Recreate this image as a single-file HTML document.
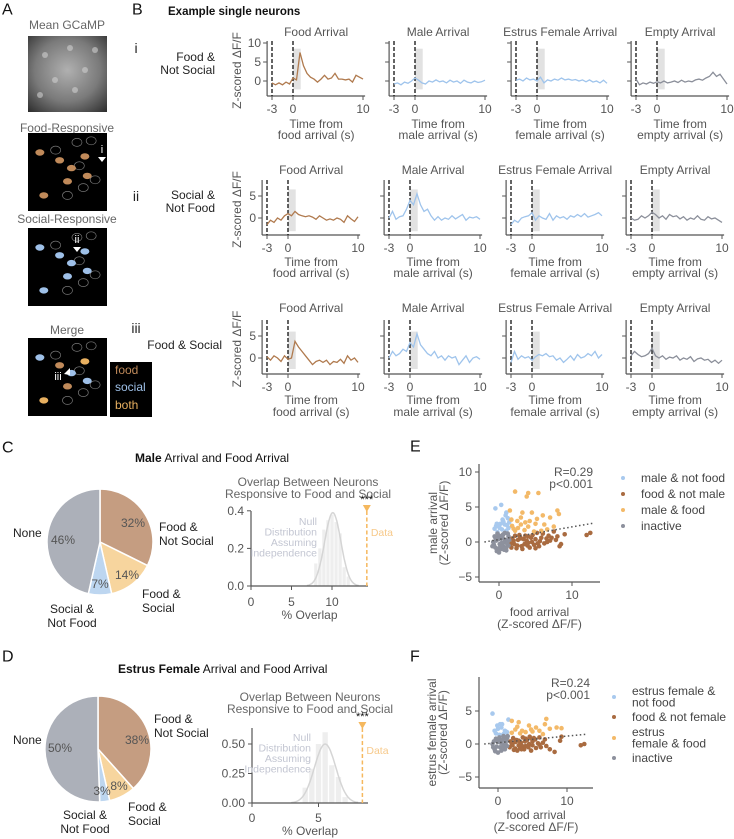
<!DOCTYPE html>
<html><head><meta charset="utf-8">
<style>
html,body{margin:0;padding:0;background:#fff;}
svg{display:block;font-family:"Liberation Sans",Arial,sans-serif;}
</style></head>
<body>
<svg id="fig" width="734" height="839" viewBox="0 0 734 839" xmlns="http://www.w3.org/2000/svg">
<defs>
<radialGradient id="gcamp" cx="50%" cy="45%" r="75%">
<stop offset="0" stop-color="#b0b0b0"/><stop offset="0.55" stop-color="#7a7a7a"/><stop offset="1" stop-color="#2a2a2a"/>
</radialGradient>
</defs>
</svg>
<script>
// ---------- DATA ----------
const traceTimeStart = -3, traceTimeStep = 0.5;
const rowLabels = ["i","ii","iii"];
const rowNames = [["Food &","Not Social"],["Social &","Not Food"],["Food & Social"]];
const colTitles = ["Food Arrival","Male Arrival","Estrus Female Arrival","Empty Arrival"];
const colXLabels = ["food arrival (s)","male arrival (s)","female arrival (s)","empty arrival (s)"];
const rowTicks = [[0,5,10],[0,5],[0,5]];
const xTicks = [-3,0,10];
const traceRowI_food   = [-0.5,-1,-0.5,-1,-0.3,-0.8,0.8,0.3,7.5,4,2,1,0.5,-0.3,0.5,1.5,0.5,0.8,2,0.5,0.5,0.3,0.5,-0.3,1.5,1,0.5];
const traceRowI_male   = [-0.8,-0.5,-1,-0.3,-0.6,0,0.8,0.2,-0.5,-0.8,0,-0.3,0.3,-0.2,0,-0.5,0.2,-0.3,0,-0.6,0.2,-0.3,-0.5,0,-0.4,-0.2,0.2];
const traceRowI_female = [0.2,0.5,0,0.8,0.3,0.5,0,1,-0.5,0.3,0,0.5,0.2,0.8,0.3,0.5,0.2,0.4,0,0.3,-0.2,0.3,-0.3,0,-0.5,0.2,-0.6];
const traceRowI_empty  = [0.5,-1,-0.5,-0.8,-0.3,-0.6,-0.2,-0.5,0,-0.5,-0.3,0,-0.4,0.2,-0.3,0,-0.2,0.3,0.5,0.2,0.8,1.2,2.3,1.2,1.8,0.5,-0.8];
const traceRowII_food   = [-1.5,-0.5,-1,0,-0.5,0.5,1,0.5,1.5,0.8,0.5,0.3,0.5,0.2,-0.3,0.5,0,-0.5,-0.2,-0.5,0,-0.3,-1,0.5,-0.2,-0.8,0.3];
const traceRowII_male   = [0,1.5,-0.3,0.3,0.5,2,4,3,5.5,3,1.5,2,0.5,-0.5,0.3,-0.5,0,-0.3,0.5,-0.2,0.3,0.8,-0.5,0.2,0,0.3,-0.3];
const traceRowII_female = [-1.5,-0.5,-1,0,0.3,0.5,1.2,-0.5,0.5,0,-0.3,1,-0.5,0.5,0,0.3,-0.3,0.5,0.2,0.8,0.3,1,0.2,0.5,0.8,1.2,0.5];
const traceRowII_empty  = [0,-0.5,-0.3,0.5,0,0.5,1.3,0.8,0,0.5,-0.3,0.8,0.3,0.5,-0.2,0.3,-0.5,0,-0.3,0.5,-0.3,-0.5,0.3,-0.2,0,-0.5,-1];
const traceRowIII_food   = [0.3,-0.5,0.5,0,-0.8,0.5,-0.3,0,3.8,2.5,1.5,0.5,-0.5,-1.5,-0.8,-0.5,-1,-0.5,-1.5,-0.8,-1,-0.3,-1.2,0.5,-0.5,0,-1];
const traceRowIII_male   = [0,1.5,0.5,1,2,1.5,3.5,2.5,5.5,3,2,1,0.5,1.5,0,0.5,-0.5,0.5,0,0.3,-1.5,-0.5,0.5,-1,0,0.3,-0.3];
const traceRowIII_female = [-1,1.5,-0.3,0.5,0,0.3,-0.5,0.3,0.8,0.5,1,0.3,0.5,-0.5,0,-1,-0.3,0.5,-0.5,0.8,0,0.3,1,0.5,1.5,0,0.8];
const traceRowIII_empty  = [0.5,1.5,0.8,0.3,0.5,1,2.2,0.5,0,0.5,-0.3,0.2,0,0.5,-0.5,0,-0.3,0.3,-0.8,-0.2,0,-0.5,-0.3,-1,-0.5,-1.2,-0.5];

const pieLabelsC = ["32%","14%","7%","46%"];
const pieValuesC = [32,14,7,46];
const pieValuesD = [38,8,3,50];
const pieLabelsD = ["38%","8%","3%","50%"];

const histBinsC = [8,8.5,9,9.5,10,10.5,11,11.5,12];
const histHeightsC = [0.12,0.2,0.3,0.35,0.38,0.34,0.28,0.1,0.05];
const nullFitC = [10.1,1.0,0.39];
const dataOverlapC = 14.3;
const histTicksYC = [0,0.2,0.4];
const histTicksXC = [0,5,10];
const histBinsD = [4,4.5,5,5.5,6,6.5,7];
const histHeightsD = [0.13,0.29,0.5,0.6,0.32,0.22,0.05];
const nullFitD = [5.5,0.8,0.5];
const dataOverlapD = 8.3;
const histTicksYD = [0,0.25,0.5];
const histTicksXD = [0,5];

const scatterE_socialX = [-0.5,0.3,1,0.5,1.2,-0.3,0,0.8,1.3,-0.6,0.4,1.0,-0.2,0.6,1.4,0.1,0.9,-0.4,0.2,1.1];
const scatterE_socialY = [4.8,5.3,4.2,3.2,3.4,2.6,2.2,2.5,2.0,1.9,1.8,1.6,1.4,2.9,2.8,2.0,3.8,2.3,2.6,2.4];
const scatterE_foodX = [2,2.5,3,3.5,4,4.5,5,5.5,6,6.5,7,7.5,8,8.5,8.3,12,12.5,9,3.2,4.2,2.2,2.8,5.2,6.8,1.6,1.8,3.8,4.8,5.8,6.2,7.2,2.4,3.6,4.6,5.6,1.7,2.1,2.6,3.1,3.4,3.9,4.4,5.3,6.6,7.8,2.9,4.0,5.0];
const scatterE_foodY = [0.2,-0.5,0.5,-0.3,0.8,0,0.4,-0.6,1.2,0.5,0.2,1.5,0.8,-0.3,-0.6,1,1.3,1.1,-1,-0.8,0.9,1.0,1.3,0.9,-0.2,0.5,0.2,-0.4,0.6,-0.2,0.6,-0.9,0.9,1.0,0.1,-0.8,-0.3,0.3,-0.6,0.4,-0.5,0.6,-0.2,0.0,0.3,0.7,-0.1,-0.9];
const scatterE_bothX = [2.2,3.8,4,5.4,1.5,3.2,4.5,6,8,8.2,7,2.5,3,4,5,6.2,7.5,1.8,2.2,3.5,4.8,5.8,3,2.0,4.2,2.6,3.6,5.2,6.6,1.7];
const scatterE_bothY = [7.2,6.5,7,7,4.5,4.2,4.2,3.8,4.5,4,3.5,3,2.5,2.2,2.6,2.5,2.2,2.3,1.6,1.7,1.5,1.6,3.5,1.9,3.0,2.0,2.8,3.3,1.8,3.2];
const scatterE_inactX = [-0.8,-0.5,-0.3,0,0.3,0.6,1,1.3,-0.6,-0.2,0.2,0.5,0.9,1.2,1.4,-0.4,0.1,0.7,1.1,0,0.4,-0.7,0.8,1.3,-0.9,-0.1,0.5,1.0,0.3,-0.5,0.7,1.2,0.0,0.6];
const scatterE_inactY = [0,-0.8,-1.3,-1.5,-1.0,-0.6,-1.2,-0.5,0.8,1.2,0.5,1.0,0.3,1.2,0.3,0.2,-0.3,0.0,-0.2,0.9,-0.1,-0.4,1.3,0.8,-0.6,0.4,0.6,-0.8,-0.7,0.6,-1.1,0.1,-0.9,1.1];
const regressionE = [0.36,0.18];

const scatterF_socialX = [-0.8,0.3,1.5,-0.5,0,0.5,1,0.8,-0.3,1.3,0.2,0.6,-0.1];
const scatterF_socialY = [4.6,3,3.7,2.0,2.3,2.5,2.0,1.5,1.6,1.8,1.4,3.0,2.8];
const scatterF_foodX = [2,2.5,3,3.5,4,4.5,5,5.5,6,6.5,7,7.5,8.2,9,9.2,12,12.5,2.2,2.8,3.3,3.8,4.2,4.8,5.2,5.8,6.2,1.7,1.8,3.0,4.0,5.0,6.8,2.5,3.6,4.6,2.1,2.7,3.2,3.9,4.4,5.4,6.0,2.3,3.4,4.9];
const scatterF_foodY = [0,-0.7,0.5,-0.3,0.8,0,0.4,-0.6,1,0.2,-0.3,-0.8,-1.2,0.5,1.1,-0.2,0,0.9,-1,0.2,-0.8,0.6,-1,0.9,0.1,-0.5,-0.5,0.4,-0.2,-0.3,-0.2,0.7,0.3,1.0,1.1,-0.2,0.6,-0.6,0.4,-0.5,0.7,-0.1,-0.9,-0.8,0.8];
const scatterF_bothX = [2,3,4.5,7,6.8,7.5,8.5,9.2,2.5,3.5,5.5,6,2,4,5,6.5,3.2,2.8,4.8];
const scatterF_bothY = [3.5,3.3,2.8,3.8,3,2.3,2.5,2.4,2.2,2.0,2.5,2,1.7,1.8,1.9,1.5,1.6,2.6,2.2];
const scatterF_inactX = [-0.8,-0.5,0,0.5,1,1.3,-0.3,0.2,0.8,1.2,0.4,0.9,-0.6,0,0.6,1.4,-0.2,0.3,1.1,-0.4,0.7,1.3,0.1,-0.7,1.0];
const scatterF_inactY = [0,-0.8,-1.3,-1,-0.8,-0.3,0.8,1.0,1.2,0.6,0.2,-0.1,0.4,0.3,0.6,1.2,-0.4,-0.5,0.2,-1.1,-0.4,0.9,0.7,-0.5,1.0];
const regressionF = [0.2,0.1];

// ---------- HELPERS ----------
const NS = "http://www.w3.org/2000/svg";
const svg = document.getElementById('fig');
function mk(tag, attrs, name, parent) {
  const el = document.createElementNS(NS, tag);
  for (const k in attrs) el.setAttribute(k, attrs[k]);
  
  
  (parent || svg).appendChild(el);
  return el;
}
function tx(x, y, s, size, fill, anchor, name, weight, rot) {
  const a = {x:x, y:y, 'font-size':size, fill:fill, 'text-anchor':anchor||'start', 'dominant-baseline':'central'};
  if (weight) a['font-weight'] = weight;
  if (rot) a.transform = 'rotate(' + rot + ' ' + x + ' ' + y + ')';
  const el = mk('text', a, name);
  el.textContent = s;
  return el;
}
function ln(x1,y1,x2,y2,stroke,w,name,dash){
  const a={x1:x1,y1:y1,x2:x2,y2:y2,stroke:stroke,'stroke-width':w};
  if(dash) a['stroke-dasharray']=dash;
  return mk('line',a,name);
}
const AX = '#555', TXT = '#555';

// ---------- PANEL LETTERS ----------
tx(2,10,"A",16,"#111","start","panel-a-label");
tx(132,10,"B",16,"#111","start","panel-b-label");
tx(168,12,"Example single neurons",11.5,"#111","start","panel-b-title","bold");
tx(2,448,"C",16,"#111","start","panel-c-label");
tx(2,657,"D",16,"#111","start","panel-d-label");
tx(410,447,"E",16,"#111","start","panel-e-label");
tx(410,657,"F",16,"#111","start","panel-f-label");

// ---------- PANEL A ----------
tx(67,25,"Mean GCaMP",12,"#666","middle","mean-gcamp-title");
mk('rect',{x:28,y:36,width:79,height:76,fill:'url(#gcamp)'},'mean-gcamp-image');
[[45,55],[70,48],[85,70],[55,80],[75,90],[40,95],[95,50]].forEach(p=>{
  mk('circle',{cx:p[0],cy:p[1],r:3,fill:'#cfcfcf',opacity:0.6},'gcamp-bright-spot');
});
const aPanels = [["Food-Responsive",128,133,"#c08a5a"],["Social-Responsive",219,228,"#9ec0e8"],["Merge",330,338,"mix"]];
const blobPos = [[0.4,0.35],[0.55,0.45],[0.72,0.3],[0.5,0.62],[0.2,0.8],[0.75,0.55],[0.15,0.25]];
const outlinePos = [[0.62,0.12],[0.35,0.22],[0.65,0.42],[0.85,0.6],[0.5,0.8],[0.7,0.7],[0.8,0.1]];
aPanels.forEach((p,pi)=>{
  tx(67,p[1],p[0],12,"#666","middle","panel-a-subtitle");
  mk('rect',{x:28,y:p[2],width:79,height:78,fill:'#000'},'cell-map-image');
  outlinePos.forEach(o=>{
    mk('ellipse',{cx:28+o[0]*79,cy:p[2]+o[1]*78,rx:5,ry:4,fill:'none',stroke:'#777','stroke-width':0.7},'cell-outline');
  });
  blobPos.forEach((b,bi)=>{
    let col = p[3];
    if (col==='mix') col = ['#c08a5a','#9ec0e8','#e8b060','#c08a5a','#e8b060','#9ec0e8','#9ec0e8'][bi];
    mk('ellipse',{cx:28+b[0]*79,cy:p[2]+b[1]*78,rx:4.5,ry:3.2,fill:col},'cell-blob');
  });
});
tx(102,150,"i",11,"#fff","middle","arrow-label-i");
mk('path',{d:'M98,157 L106,157 L102,162 Z',fill:'#fff'},'arrow-i');
tx(77,240,"ii",11,"#fff","middle","arrow-label-ii");
mk('path',{d:'M73,247 L81,247 L77,252 Z',fill:'#fff'},'arrow-ii');
tx(58,377,"iii",11,"#fff","middle","arrow-label-iii");
mk('path',{d:'M64,374 L70,368 L70,375 Z',fill:'#fff'},'arrow-iii');
mk('rect',{x:110,y:362,width:42,height:55,fill:'#000'},'merge-legend-box');
tx(115,370,"food",12,"#c08a5a","start","legend-food");
tx(115,387,"social",12,"#9ec0e8","start","legend-social");
tx(115,405,"both",12,"#e8b060","start","legend-both");

// ---------- PANEL B ----------
const traces = [
  [traceRowI_food,traceRowI_male,traceRowI_female,traceRowI_empty],
  [traceRowII_food,traceRowII_male,traceRowII_female,traceRowII_empty],
  [traceRowIII_food,traceRowIII_male,traceRowIII_female,traceRowIII_empty]];
const colColors = ["#b07a4e","#9fc4ec","#9fc4ec","#8b8f9a"];
const rowGeom = [
  {x0:[272,394,516,636], y0:81,  k:3.8, top:41,  bot:96,  tl:109, xl1:124, xl2:135, title:32,  box:[8.5,-2.2], lab:48, nm:[57,70]},
  {x0:[267,389,511,631], y0:218, k:4.4, top:180, bot:235, tl:248, xl1:262, xl2:273, title:170, box:[6.5,-3.0], lab:196, nm:[195,208]},
  {x0:[267,389,511,631], y0:358, k:4.4, top:320, bot:374, tl:387, xl1:400, xl2:412, title:308, box:[6.0,-2.5], lab:328, nm:[345]}];
const SX = 7;
rowGeom.forEach((g,ri)=>{
  tx(136,g.lab,rowLabels[ri],14,"#222","middle","row-label-"+rowLabels[ri]);
  rowNames[ri].forEach((s,si)=> tx(ri===2?222:215,g.nm[si],s,12,"#222","end","row-name"));
  for (let ci=0; ci<4; ci++){
    const X = t => g.x0[ci] + (t+3)*SX;
    const Y = v => g.y0 - v*g.k;
    const spine = X(-3.7);
    tx(X(3.3),g.title,colTitles[ci],12,TXT,"middle","trace-title");
    mk('rect',{x:X(0),y:Y(g.box[0]),width:SX*1.1,height:Y(g.box[1])-Y(g.box[0]),fill:'#e2e2e2'},'response-window');
    ln(spine,g.top,spine,g.bot,AX,1.2,'y-axis');
    ln(spine,g.bot,X(10.3),g.bot,AX,1.2,'x-axis');
    rowTicks[ri].forEach(v=>{
      ln(spine-4,Y(v),spine,Y(v),AX,1,'y-tick');
      if(ci===0) tx(spine-6,Y(v),String(v),12,TXT,"end","y-tick-label");
    });
    xTicks.forEach(t=>{
      ln(X(t),g.bot,X(t),g.bot+4,AX,1,'x-tick');
      tx(X(t),g.tl,String(t),12,TXT,"middle","x-tick-label");
    });
    ln(X(-3),g.top,X(-3),g.bot,'#111',1.3,'onset-line-minus3','4,2');
    ln(X(0),g.top,X(0),g.bot,'#111',1.3,'onset-line-0','4,2');
    const d = traces[ri][ci];
    const pts = d.map((v,i)=>X(traceTimeStart+i*traceTimeStep).toFixed(1)+','+Y(v).toFixed(1)).join(' ');
    mk('polyline',{points:pts,fill:'none',stroke:colColors[ci],'stroke-width':1.3},'trace-line');
    tx(X(3.3),g.xl1,"Time from",12,TXT,"middle","x-axis-title");
    tx(X(3.3),g.xl2,colXLabels[ci],12,TXT,"middle","x-axis-title");
    if(ci===0) tx(237,(g.top+g.bot)/2+2,"Z-scored ΔF/F",12,TXT,"middle","y-axis-title",null,-90);
  }
});

// ---------- PIES ----------
const pieColors = ["#c59d81","#f7d59e","#bdd6f0","#acb0b9"];
function pie(cx,cy,r,vals,labels,labelPos,nm){
  const tot = vals.reduce((a,b)=>a+b,0);
  let a0 = -Math.PI/2;
  vals.forEach((v,i)=>{
    const a1 = a0 + v/tot*2*Math.PI;
    const x0=cx+r*Math.cos(a0), y0=cy+r*Math.sin(a0), x1=cx+r*Math.cos(a1), y1=cy+r*Math.sin(a1);
    const large = (a1-a0)>Math.PI?1:0;
    mk('path',{d:`M${cx},${cy} L${x0.toFixed(2)},${y0.toFixed(2)} A${r},${r} 0 ${large} 1 ${x1.toFixed(2)},${y1.toFixed(2)} Z`,fill:pieColors[i],stroke:'#fff','stroke-width':1.5},nm+'-slice');
    a0 = a1;
  });
  labels.forEach((s,i)=>tx(labelPos[i][0],labelPos[i][1],s,12,"#555","middle",nm+'-percent'));
}
const tC = tx(135,458,"",12,"#111","start","panel-c-title");
tC.innerHTML = '<tspan font-weight="bold">Male</tspan> Arrival and Food Arrival';
pie(100,542,53,pieValuesC,pieLabelsC,[[133,523],[127,575],[100,584],[63,540]],'pie-c');
tx(159,527,"Food &",12,"#222","start","pie-c-label");
tx(159,541,"Not Social",12,"#222","start","pie-c-label");
tx(142,594,"Food &",12,"#222","start","pie-c-label");
tx(142,608,"Social",12,"#222","start","pie-c-label");
tx(72,609,"Social &",12,"#222","middle","pie-c-label");
tx(72,623,"Not Food",12,"#222","middle","pie-c-label");
tx(13,533,"None",12,"#222","start","pie-c-label");

const tD = tx(118,669,"",12,"#111","start","panel-d-title");
tD.innerHTML = '<tspan font-weight="bold">Estrus Female</tspan> Arrival and Food Arrival';
pie(98,749,53,pieValuesD,pieLabelsD,[[137,740],[119,786],[102,791],[60,748]],'pie-d');
tx(154,719,"Food &",12,"#222","start","pie-d-label");
tx(154,733,"Not Social",12,"#222","start","pie-d-label");
tx(128,807,"Food &",12,"#222","start","pie-d-label");
tx(128,821,"Social",12,"#222","start","pie-d-label");
tx(85,815,"Social &",12,"#222","middle","pie-d-label");
tx(85,829,"Not Food",12,"#222","middle","pie-d-label");
tx(13,740,"None",12,"#222","start","pie-d-label");

// ---------- HISTOGRAMS ----------
function hist(o){
  const X = v => o.x0 + v*o.sx;
  const Y = v => o.y0 - v*o.sy;
  tx(o.tcx,o.t1,"Overlap Between Neurons",12,"#666","middle","hist-title");
  tx(o.tcx,o.t1+12,"Responsive to Food and Social",12,"#666","middle","hist-title");
  o.bins.forEach((b,i)=>{
    mk('rect',{x:X(b-0.2),y:Y(o.h[i]),width:0.4*o.sx,height:Y(0)-Y(o.h[i]),fill:'#eeeeee'},'null-hist-bar');
  });
  const pts=[];
  for(let v=o.fit[0]-3.2*o.fit[1]; v<=o.fit[0]+3.2*o.fit[1]; v+=o.fit[1]/10){
    pts.push(X(v).toFixed(1)+','+Y(o.fit[2]*Math.exp(-0.5*Math.pow((v-o.fit[0])/o.fit[1],2))).toFixed(1));
  }
  mk('polyline',{points:pts.join(' '),fill:'none',stroke:'#d5d5d5','stroke-width':1.5},'null-fit-curve');
  ln(o.x0,o.top,o.x0,Y(0),AX,1.2,'hist-y-axis');
  ln(o.x0,Y(0),o.xend,Y(0),AX,1.2,'hist-x-axis');
  o.ty.forEach(v=>{ ln(o.x0-4,Y(v),o.x0,Y(v),AX,1,'hist-y-tick'); tx(o.x0-7,Y(v),o.tyl(v),12,TXT,"end","hist-y-tick-label"); });
  o.tx.forEach(v=>{ ln(X(v),Y(0),X(v),Y(0)+4,AX,1,'hist-x-tick'); tx(X(v),o.tly,String(v),12,TXT,"middle","hist-x-tick-label"); });
  tx((o.x0+o.xend)/2,o.tly+13,"% Overlap",12,TXT,"middle","hist-x-axis-title");
  ln(X(o.data),o.top,X(o.data),Y(0),'#f5b85e',1.5,'data-line','4,2.5');
  mk('path',{d:`M${X(o.data)-4},${o.top-6} L${X(o.data)+4},${o.top-6} L${X(o.data)},${o.top+1} Z`,fill:'#f5b85e'},'data-marker');
  tx(X(o.data),o.top-11,"***",11,"#111","middle","significance-stars");
  tx(X(o.data)+4,o.dy,"Data",10.5,"#f7c98a","start","data-label");
  ["Null","Distribution","Assuming","Independence"].forEach((s,i)=>tx(o.nx,o.ny+i*10.5,s,10.5,"#c3c6d2","end","null-label"));
}
hist({x0:251,sx:8.1,y0:586,sy:188,top:511,xend:368,tcx:308,t1:482,bins:histBinsC,h:histHeightsC,fit:nullFitC,data:dataOverlapC,ty:histTicksYC,tyl:v=>v.toFixed(1),tx:histTicksXC,tly:602,dy:533,nx:317,ny:522});
hist({x0:252,sx:13.3,y0:803,sy:118,top:728,xend:368,tcx:310,t1:697,bins:histBinsD,h:histHeightsD,fit:nullFitD,data:dataOverlapD,ty:histTicksYD,tyl:v=>v.toFixed(2),tx:histTicksXD,tly:818,dy:751,nx:311,ny:738});

// ---------- SCATTERS ----------
const scColors = ["#a8c9ee","#a96b40","#f3b968","#8d919d"];
function scatter(o){
  const X = v => o.xz + v*o.sx;
  const Y = v => o.yz - v*o.sy;
  ln(o.spine,o.top,o.spine,o.bot,AX,1.2,'scatter-y-axis');
  ln(o.spine,o.bot,o.xend,o.bot,AX,1.2,'scatter-x-axis');
  o.yt.forEach(v=>{ ln(o.spine-4,Y(v),o.spine,Y(v),AX,1,'scatter-y-tick'); tx(o.spine-7,Y(v),v<0?'−'+(-v):String(v),12,TXT,"end","scatter-y-tick-label"); });
  [0,10].forEach(v=>{ ln(X(v),o.bot,X(v),o.bot+4,AX,1,'scatter-x-tick'); tx(X(v),o.bot+13,String(v),12,TXT,"middle","scatter-x-tick-label"); });
  o.groups.forEach((gp,gi)=>{
    gp[0].forEach((xv,i)=>{
      mk('circle',{cx:X(xv).toFixed(1),cy:Y(gp[1][i]).toFixed(1),r:2.3,fill:scColors[gi]},'scatter-point');
    });
  });
  mk('line',{x1:X(-2),y1:Y(o.reg[0]+o.reg[1]*-2),x2:X(13),y2:Y(o.reg[0]+o.reg[1]*13),stroke:'#555','stroke-width':1.5,'stroke-dasharray':'1.5,2.5'},'regression-line');
  tx(o.rx,o.ry,o.rt,12,TXT,"end","correlation-r");
  tx(o.rx,o.ry+12,"p<0.001",12,TXT,"end","p-value");
  tx((o.spine+o.xend)/2,o.xl,"food arrival",12,TXT,"middle","scatter-x-axis-title");
  tx((o.spine+o.xend)/2,o.xl+12,"(Z-scored ΔF/F)",12,TXT,"middle","scatter-x-axis-title");
  tx(o.yl1,(o.top+o.bot)/2,o.ylab,12,TXT,"middle","scatter-y-axis-title",null,-90);
  tx(o.yl1+11,(o.top+o.bot)/2,"(Z-scored ΔF/F)",12,TXT,"middle","scatter-y-axis-title",null,-90);
  o.leg.forEach((e,i)=>{
    mk('circle',{cx:o.lx,cy:e[0],r:2,fill:scColors[i]},'legend-dot');
    e[1].forEach((s,j)=>tx(o.lx+18,e[2]+j*11.5,s,12,"#444","start","legend-entry"));
  });
}
scatter({xz:499,sx:7.3,yz:542,sy:7.0,spine:479,top:464,bot:582,xend:600,yt:[10,5,0,-5],
  groups:[[scatterE_socialX,scatterE_socialY],[scatterE_foodX,scatterE_foodY],[scatterE_bothX,scatterE_bothY],[scatterE_inactX,scatterE_inactY]],
  reg:regressionE,rx:593,ry:472,rt:"R=0.29",xl:612,ylab:"male arrival",yl1:433,lx:623,
  leg:[[478,["male & not food"],478],[494,["food & not male"],494],[510,["male & food"],510],[526,["inactive"],526]]});
scatter({xz:498,sx:6.9,yz:744,sy:6.6,spine:479,top:677,bot:788,xend:593,yt:[5,0,-5],
  groups:[[scatterF_socialX,scatterF_socialY],[scatterF_foodX,scatterF_foodY],[scatterF_bothX,scatterF_bothY],[scatterF_inactX,scatterF_inactY]],
  reg:regressionF,rx:590,ry:683,rt:"R=0.24",xl:815,ylab:"estrus female arrival",yl1:432,lx:614,
  leg:[[697,["estrus female &","not food"],691],[717,["food & not female"],717],[738,["estrus","female & food"],732],[758,["inactive"],758]]});
</script>
</body></html>
